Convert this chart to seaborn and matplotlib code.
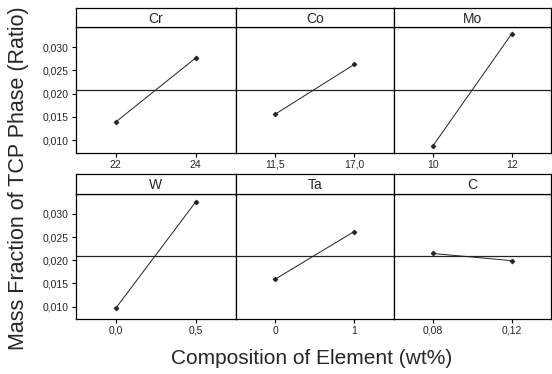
import numpy as np
import pandas as pd
import matplotlib
matplotlib.use("Agg")
import matplotlib.pyplot as plt
import seaborn as sns

# ---- data ----
elements = ["Cr", "Co", "Mo", "W", "Ta", "C"]
levels = [["22", "24"], ["11,5", "17,0"], ["10", "12"],
          ["0,0", "0,5"], ["0", "1"], ["0,08", "0,12"]]
means = [[0.0139, 0.0277], [0.0156, 0.0263], [0.0088, 0.0329],
         [0.0096, 0.0326], [0.0159, 0.0262], [0.02145, 0.0199]]
yticks = [0.010, 0.015, 0.020, 0.025, 0.030]
ytick_labels = ["0,010", "0,015", "0,020", "0,025", "0,030"]
xlabel = "Composition of Element (wt%)"
ylabel = "Mass Fraction of TCP Phase (Ratio)"

rows = []
for el, lv, mv in zip(elements, levels, means):
    for l, m in zip(lv, mv):
        rows.append({"element": el, "level": l, "mean": m})
df = pd.DataFrame(rows)
grand_mean = df["mean"].mean()

sns.set_style("ticks")
plt.rcParams["font.family"] = ["Liberation Sans", "DejaVu Sans"]

W, H = 552, 374
fig = plt.figure(figsize=(W / 100, H / 100), dpi=100)


def rect(x0, y0, x1, y1):
    return [x0 / W, 1 - y1 / H, (x1 - x0) / W, (y1 - y0) / H]


col_edges = [75.7, 235.7, 393.7, 551.0]
row_geo = [(8.0, 27.3, 152.7), (174.3, 194.0, 319.0)]  # strip top, strip bottom/plot top, plot bottom
ylim = (0.0073, 0.0343)

for i, el in enumerate(elements):
    r, c = divmod(i, 3)
    st, sb, pb = row_geo[r]
    x0, x1 = col_edges[c], col_edges[c + 1]
    ax = fig.add_axes(rect(x0, sb, x1, pb))
    sub = df[df["element"] == el]
    sns.pointplot(data=sub, x="level", y="mean", order=levels[i], ax=ax,
                  color="#222222", markers="D", markersize=2.5, linewidth=0.7,
                  errorbar=None)
    ax.axhline(grand_mean, color="#222222", lw=0.9, zorder=0)
    ax.set_xlim(-0.5, 1.5)
    ax.set_ylim(*ylim)
    ax.set_xlabel("")
    ax.set_ylabel("")
    for s in ax.spines.values():
        s.set_visible(True)
        s.set_color("black")
        s.set_linewidth(0.9)
    ax.tick_params(axis="x", length=3, width=0.8, labelsize=7.5, pad=2, color="black")
    if c == 0:
        ax.set_yticks(yticks)
        ax.set_yticklabels(ytick_labels)
        ax.tick_params(axis="y", length=3, width=0.8, labelsize=7.5, pad=2, color="black")
    else:
        ax.set_yticks([])
    # strip
    sax = fig.add_axes(rect(x0, st, x1, sb))
    sax.set_xticks([])
    sax.set_yticks([])
    for s in sax.spines.values():
        s.set_visible(True)
        s.set_color("black")
        s.set_linewidth(0.9)
    sax.text(0.5, 0.45, el, ha="center", va="center", fontsize=10,
             transform=sax.transAxes)

fig.text(312 / W, 1 - 358 / H, xlabel, ha="center", va="center", fontsize=15)
fig.text(19 / W, 1 - 178 / H, ylabel, ha="center", va="center", fontsize=15.5,
         rotation=90)

fig.savefig("out.png", dpi=100)
